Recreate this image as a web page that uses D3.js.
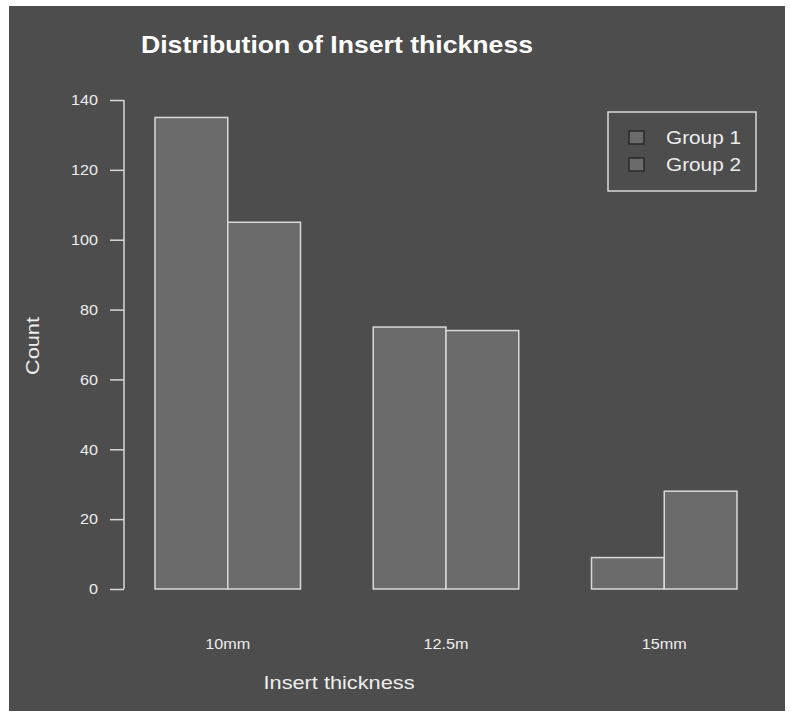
<!DOCTYPE html>
<html>
<head>
<meta charset="utf-8">
<script src="https://cdn.jsdelivr.net/npm/d3@7"></script>
<style>
  html, body { margin: 0; padding: 0; background: #ffffff; }
  svg { display: block; }
  text { font-family: "Liberation Sans", Arial, Helvetica, sans-serif; }
</style>
</head>
<body>
<svg id="chart" width="790" height="713"></svg>
<script>
// Counts per insert thickness, two groups side by side
const categories = ["10mm", "12.5m", "15mm"];
const groups = ["Group 1", "Group 2"];
const group1 = [135, 75, 9];
const group2 = [105, 74, 28];
const yTicks = [0, 20, 40, 60, 80, 100, 120, 140];

const bg = "#4d4d4d";
const barFill = "#6b6b6b";
const lineCol = "#d8d8d8";
const textCol = "#eeeeee";

const svg = d3.select("#chart");

// panel background
svg.append("rect")
  .attr("x", 9).attr("y", 6)
  .attr("width", 776).attr("height", 705)
  .attr("fill", bg);

const plot = { left: 155, right: 737, top: 100, bottom: 589 };

const x0 = d3.scaleBand()
  .domain(categories)
  .range([plot.left, plot.right])
  .paddingInner(1 / 3)
  .paddingOuter(0);

const x1 = d3.scaleBand()
  .domain(groups)
  .range([0, x0.bandwidth()])
  .padding(0);

const y = d3.scaleLinear()
  .domain([0, 140])
  .range([plot.bottom, plot.top]);

const rows = categories.map((c, i) => ({
  cat: c,
  vals: [{ g: groups[0], v: group1[i] }, { g: groups[1], v: group2[i] }]
}));

// bars
const gBars = svg.append("g");
rows.forEach(r => {
  gBars.selectAll(null)
    .data(r.vals)
    .enter()
    .append("rect")
    .attr("x", d => x0(r.cat) + x1(d.g))
    .attr("y", d => y(d.v))
    .attr("width", x1.bandwidth())
    .attr("height", d => y(0) - y(d.v))
    .attr("fill", barFill)
    .attr("stroke", lineCol)
    .attr("stroke-width", 1.5);
});

// y axis
const yAxis = d3.axisLeft(y)
  .tickValues(yTicks)
  .tickSize(14)
  .tickPadding(12)
  .tickFormat(d3.format("d"));

const gy = svg.append("g")
  .attr("transform", "translate(124,0)")
  .call(yAxis);
gy.select(".domain")
  .attr("stroke", lineCol)
  .attr("stroke-width", 1.5)
  .attr("d", `M0,${y(0)}V${y(140)}`);
gy.selectAll(".tick line")
  .attr("stroke", lineCol)
  .attr("stroke-width", 1.5);
gy.selectAll(".tick text")
  .attr("fill", textCol)
  .attr("font-size", 15)
  .attr("font-family", "Liberation Sans, Arial, sans-serif")
  .attr("textLength", d => String(d).length * 9)
  .attr("lengthAdjust", "spacingAndGlyphs");

// category labels (no axis line)
svg.append("g")
  .selectAll("text")
  .data(categories)
  .enter()
  .append("text")
  .attr("x", d => x0(d) + x0.bandwidth() / 2)
  .attr("y", 649)
  .attr("text-anchor", "middle")
  .attr("fill", textCol)
  .attr("font-size", 15)
  .attr("textLength", 45)
  .attr("lengthAdjust", "spacingAndGlyphs")
  .text(d => d);

// title
svg.append("text")
  .attr("x", 337)
  .attr("y", 53)
  .attr("text-anchor", "middle")
  .attr("fill", "#ffffff")
  .attr("font-size", 24)
  .attr("font-weight", "bold")
  .attr("textLength", 392)
  .attr("lengthAdjust", "spacingAndGlyphs")
  .text("Distribution of Insert thickness");

// axis titles
svg.append("text")
  .attr("x", 339)
  .attr("y", 689)
  .attr("text-anchor", "middle")
  .attr("fill", textCol)
  .attr("font-size", 19)
  .attr("textLength", 151)
  .attr("lengthAdjust", "spacingAndGlyphs")
  .text("Insert thickness");

svg.append("text")
  .attr("transform", "translate(39,346) rotate(-90)")
  .attr("text-anchor", "middle")
  .attr("fill", textCol)
  .attr("font-size", 19)
  .attr("textLength", 58)
  .attr("lengthAdjust", "spacingAndGlyphs")
  .text("Count");

// legend
const legend = svg.append("g");
legend.append("rect")
  .attr("x", 608).attr("y", 112)
  .attr("width", 148).attr("height", 79)
  .attr("fill", "none")
  .attr("stroke", lineCol)
  .attr("stroke-width", 1.5);

const li = legend.selectAll("g.item")
  .data(groups)
  .enter()
  .append("g")
  .attr("class", "item")
  .attr("transform", (d, i) => `translate(0,${i * 27})`);

li.append("rect")
  .attr("x", 629).attr("y", 131)
  .attr("width", 15).attr("height", 13)
  .attr("fill", barFill)
  .attr("stroke", "#2a2a2a")
  .attr("stroke-width", 1.5);

li.append("text")
  .attr("x", 666)
  .attr("y", 144)
  .attr("fill", textCol)
  .attr("font-size", 18)
  .attr("textLength", 75)
  .attr("lengthAdjust", "spacingAndGlyphs")
  .text(d => d);
</script>
</body>
</html>
